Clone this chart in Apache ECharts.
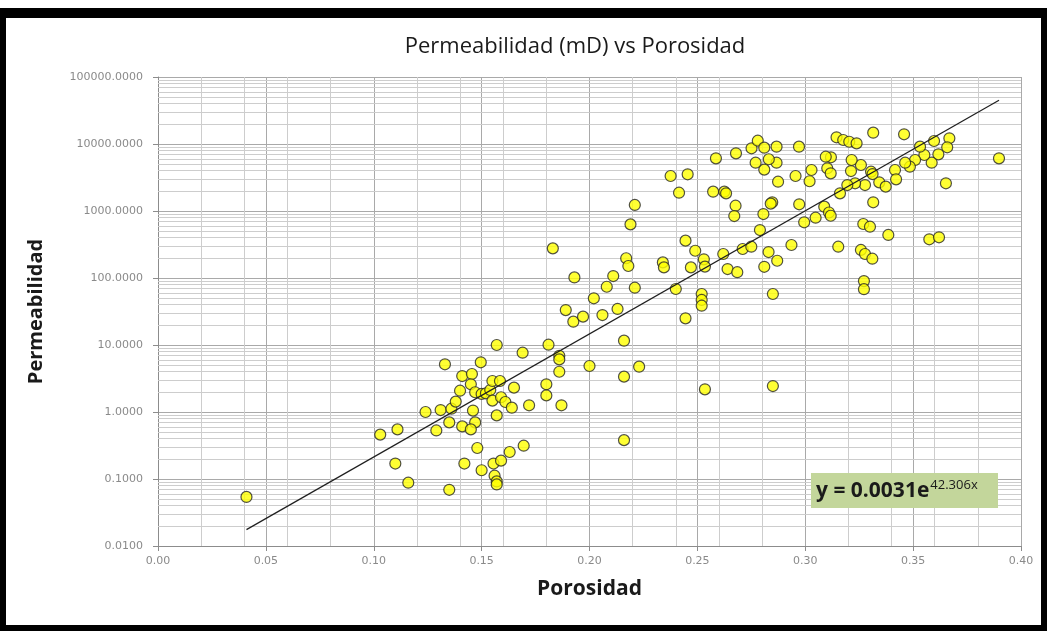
<!DOCTYPE html>
<html>
<head>
<meta charset="utf-8">
<title>Permeabilidad (mD) vs Porosidad</title>
<script src="https://cdn.jsdelivr.net/npm/echarts@6/dist/echarts.min.js"></script>
<style>
  html, body { margin: 0; padding: 0; background: #ffffff; }
  #chart { position: absolute; left: 0; top: 0; width: 1047px; height: 631px; }
  #frame {
    position: absolute; left: 0; top: 8px; width: 1047px; height: 623px;
    box-sizing: border-box; pointer-events: none;
    border-top: 10px solid #000; border-left: 6px solid #000;
    border-right: 6px solid #000; border-bottom: 6px solid #000;
  }
</style>
</head>
<body>
<div id="chart"></div>
<div id="frame"></div>
<script>
// Core samples: porosity (fraction) and permeability (mD)
const porosidad = [
  0.041, 0.103, 0.111, 0.110, 0.116, 0.124, 0.129, 0.131, 0.133, 0.135,
  0.135, 0.136, 0.138, 0.140, 0.141, 0.141, 0.142, 0.1455, 0.145, 0.147,
  0.146, 0.147, 0.145, 0.148, 0.150, 0.150, 0.1496, 0.152, 0.154, 0.155,
  0.1585, 0.157, 0.155, 0.159, 0.161, 0.164, 0.165, 0.157, 0.1555, 0.156,
  0.157, 0.157, 0.159, 0.163, 0.1695, 0.169, 0.172, 0.180, 0.180, 0.181,
  0.186, 0.186, 0.186, 0.187, 0.200, 0.216, 0.216, 0.216, 0.223,
  0.183, 0.193, 0.211, 0.208, 0.221, 0.219, 0.217, 0.218, 0.221, 0.202,
  0.189, 0.1925, 0.197, 0.206, 0.213, 0.2535, 0.285, 0.2445, 0.240, 0.252,
  0.252, 0.252, 0.234, 0.2345, 0.247, 0.249, 0.253, 0.2535, 0.2445, 0.262,
  0.264, 0.2685, 0.271, 0.275, 0.279, 0.283, 0.287, 0.281, 0.285, 0.2936,
  0.2806, 0.2847, 0.2840, 0.2972, 0.2995, 0.3048, 0.302, 0.2955, 0.2874, 0.281,
  0.2677, 0.2671, 0.2573, 0.2625, 0.2633, 0.2415, 0.2376, 0.2455, 0.2586, 0.2679,
  0.3088, 0.3110, 0.3118, 0.3153, 0.3269, 0.3300, 0.3385, 0.3258, 0.3277, 0.3311,
  0.3272, 0.3272, 0.3575, 0.3620, 0.3652, 0.3898, 0.3315, 0.3458, 0.3145, 0.3176,
  0.3204, 0.3238, 0.3597, 0.3668, 0.3658, 0.3617, 0.3586, 0.3552, 0.3532, 0.3509,
  0.3485, 0.3463, 0.3416, 0.3421, 0.3343, 0.3373, 0.3315, 0.3305, 0.3312, 0.3277,
  0.3258, 0.3231, 0.3195, 0.3161, 0.3215, 0.3212, 0.3119, 0.3095, 0.3102, 0.3118,
  0.3029, 0.2971, 0.2867, 0.2867, 0.2831, 0.2770, 0.2751, 0.2780, 0.2810
];
const permeabilidad = [
  0.054, 0.46, 0.55, 0.17, 0.088, 1.00, 0.53, 1.07, 5.15, 0.70,
  0.069, 1.12, 1.43, 2.08, 3.44, 0.61, 0.17, 3.69, 2.59, 1.97,
  1.05, 0.70, 0.55, 0.29, 0.135, 1.86, 5.52, 1.90, 2.13, 2.90,
  2.90, 10.0, 1.48, 1.66, 1.41, 1.16, 2.31, 0.89, 0.17, 0.112,
  0.092, 0.083, 0.188, 0.253, 0.314, 7.67, 1.26, 2.59, 1.77, 10.1,
  6.9, 6.1, 3.99, 1.26, 4.86, 11.6, 3.37, 0.38, 4.75,
  277, 102, 107, 74, 1231, 632, 197, 151, 71.6, 49.8,
  33.2, 22.3, 26.5, 28.0, 34.5, 2.18, 2.44, 25.0, 68.5, 57.7,
  47, 38.6, 171, 144, 144, 255, 190, 148, 361, 228,
  136, 122, 271, 293, 520, 244, 181, 147, 57.7, 311,
  901, 1349, 1290, 1259, 678, 794, 2780, 3330, 2735, 4150,
  1200, 841, 1942, 1942, 1836, 1875, 3327, 3532, 6110, 7260,
  1160, 950, 850, 293, 640, 583, 439, 262, 228, 194,
  90, 68, 378, 405, 2590, 6110, 14760, 13960, 12590, 11480,
  10800, 10230, 11090, 12170, 8930, 7010, 5260, 6850, 9120, 5770,
  4580, 5260, 4090, 2970, 2680, 2310, 1349, 3860, 3560, 2440,
  4860, 2590, 2440, 1836, 5770, 3950, 6330, 6460, 4340, 3650,
  4090, 9120, 9120, 5260, 5920, 5260, 8630, 11200, 8810
];

// Exponential fit shown in the equation box: k = a * e^(b * phi)
const fitA = 0.0031;
const fitB = 42.306;

// Grid helpers: minor vertical lines and the 2..9 lines of every decade
const xMinorTicks = [0.02, 0.04, 0.06, 0.08, 0.12, 0.14, 0.16, 0.18, 0.22, 0.24,
                     0.26, 0.28, 0.32, 0.34, 0.36, 0.38];
const decadeStarts = [0.01, 0.1, 1, 10, 100, 1000, 10000];
const decadeSteps = [2, 3, 4, 5, 6, 7, 8, 9];

const FONT = '"Open Sans", Lato, "Liberation Sans", sans-serif';
const TICK_FONT = '"DejaVu Sans", sans-serif';

const points = porosidad.map((p, i) => [p, permeabilidad[i]]);
const xLo = Math.min(...porosidad);
const xHi = Math.max(...porosidad);
const fitLine = [xLo, xHi].map(p => [p, fitA * Math.exp(fitB * p)]);

const gridMarks = [];
xMinorTicks.forEach(v => gridMarks.push({ xAxis: v }));
decadeStarts.forEach(d => decadeSteps.forEach(m => gridMarks.push({ yAxis: +(d * m).toPrecision(6) })));

// Equation text: base part plus a superscript exponent placed right after it
const eqBase = 'y = ' + fitA.toFixed(4) + 'e';
const eqExp = fitB.toFixed(3) + 'x';
const eqBaseFont = 'bold 21px ' + FONT;
const measureCtx = document.createElement('canvas').getContext('2d');
measureCtx.font = eqBaseFont;
const eqBaseWidth = measureCtx.measureText(eqBase).width;

const chart = echarts.init(document.getElementById('chart'), null, { renderer: 'canvas' });
chart.setOption({
  backgroundColor: '#ffffff',
  animation: false,
  title: {
    text: 'Permeabilidad (mD) vs Porosidad',
    left: 570, top: 31, textAlign: 'center',
    textStyle: { fontFamily: FONT, fontSize: 22, fontWeight: 'normal', color: '#1a1a1a' }
  },
  grid: { left: 158, right: 26, top: 77, bottom: 85, containLabel: false },
  xAxis: {
    type: 'value', min: 0, max: 0.4, interval: 0.05,
    name: 'Porosidad', nameLocation: 'middle', nameGap: 33,
    nameTextStyle: { fontFamily: FONT, fontSize: 21, fontWeight: 'bold', color: '#1a1a1a' },
    axisLine: { show: true, lineStyle: { color: '#8c8c8c', width: 1 } },
    axisTick: { show: true, inside: false, length: 5, lineStyle: { color: '#8c8c8c' } },
    axisLabel: { formatter: v => v.toFixed(2), color: '#8a8a8a', fontSize: 11, margin: 10,
                 fontFamily: TICK_FONT },
    splitLine: { show: true, lineStyle: { color: '#a9a9a9', width: 1 } }
  },
  yAxis: {
    type: 'log', logBase: 10, min: 0.01, max: 100000,
    name: 'Permeabilidad', nameLocation: 'middle', nameGap: 112, nameRotate: 90,
    nameTextStyle: { fontFamily: FONT, fontSize: 20, fontWeight: 'bold', color: '#1a1a1a' },
    axisLine: { show: true, lineStyle: { color: '#8c8c8c', width: 1 } },
    axisTick: { show: true, inside: false, length: 5, lineStyle: { color: '#8c8c8c' } },
    axisLabel: { formatter: v => Number(v).toFixed(4), color: '#8a8a8a', fontSize: 11, margin: 15,
                 fontFamily: TICK_FONT },
    splitLine: { show: true, lineStyle: { color: '#a9a9a9', width: 1 } }
  },
  series: [
    {
      type: 'line', data: [], silent: true, z: 1,
      markLine: {
        silent: true, symbol: 'none', z: 1, animation: false,
        label: { show: false },
        lineStyle: { color: '#cdcdcd', width: 1, type: 'solid' },
        emphasis: { disabled: true },
        data: gridMarks
      }
    },
    {
      type: 'scatter', data: points, z: 3,
      symbol: 'circle', symbolSize: 11,
      itemStyle: { color: '#ffff00', borderColor: '#262626', borderWidth: 1.2 }
    },
    {
      type: 'line', data: fitLine, z: 4, showSymbol: false, silent: true,
      lineStyle: { color: '#1f1f1f', width: 1.2 }
    }
  ],
  graphic: [
    {
      type: 'group', left: 811, top: 473,
      children: [
        { type: 'rect', z: 100, shape: { x: 0, y: 0, width: 187, height: 35 }, style: { fill: '#c3d69b' } },
        {
          type: 'text', z: 101, x: 5, y: 18,
          style: { text: eqBase, font: eqBaseFont, fill: '#1a1a1a', verticalAlign: 'middle', align: 'left' }
        },
        {
          type: 'text', z: 101, x: 6 + eqBaseWidth, y: 6,
          style: { text: eqExp, font: '13px ' + FONT, fill: '#1a1a1a', verticalAlign: 'top', align: 'left' }
        }
      ]
    }
  ]
});
</script>
</body>
</html>
